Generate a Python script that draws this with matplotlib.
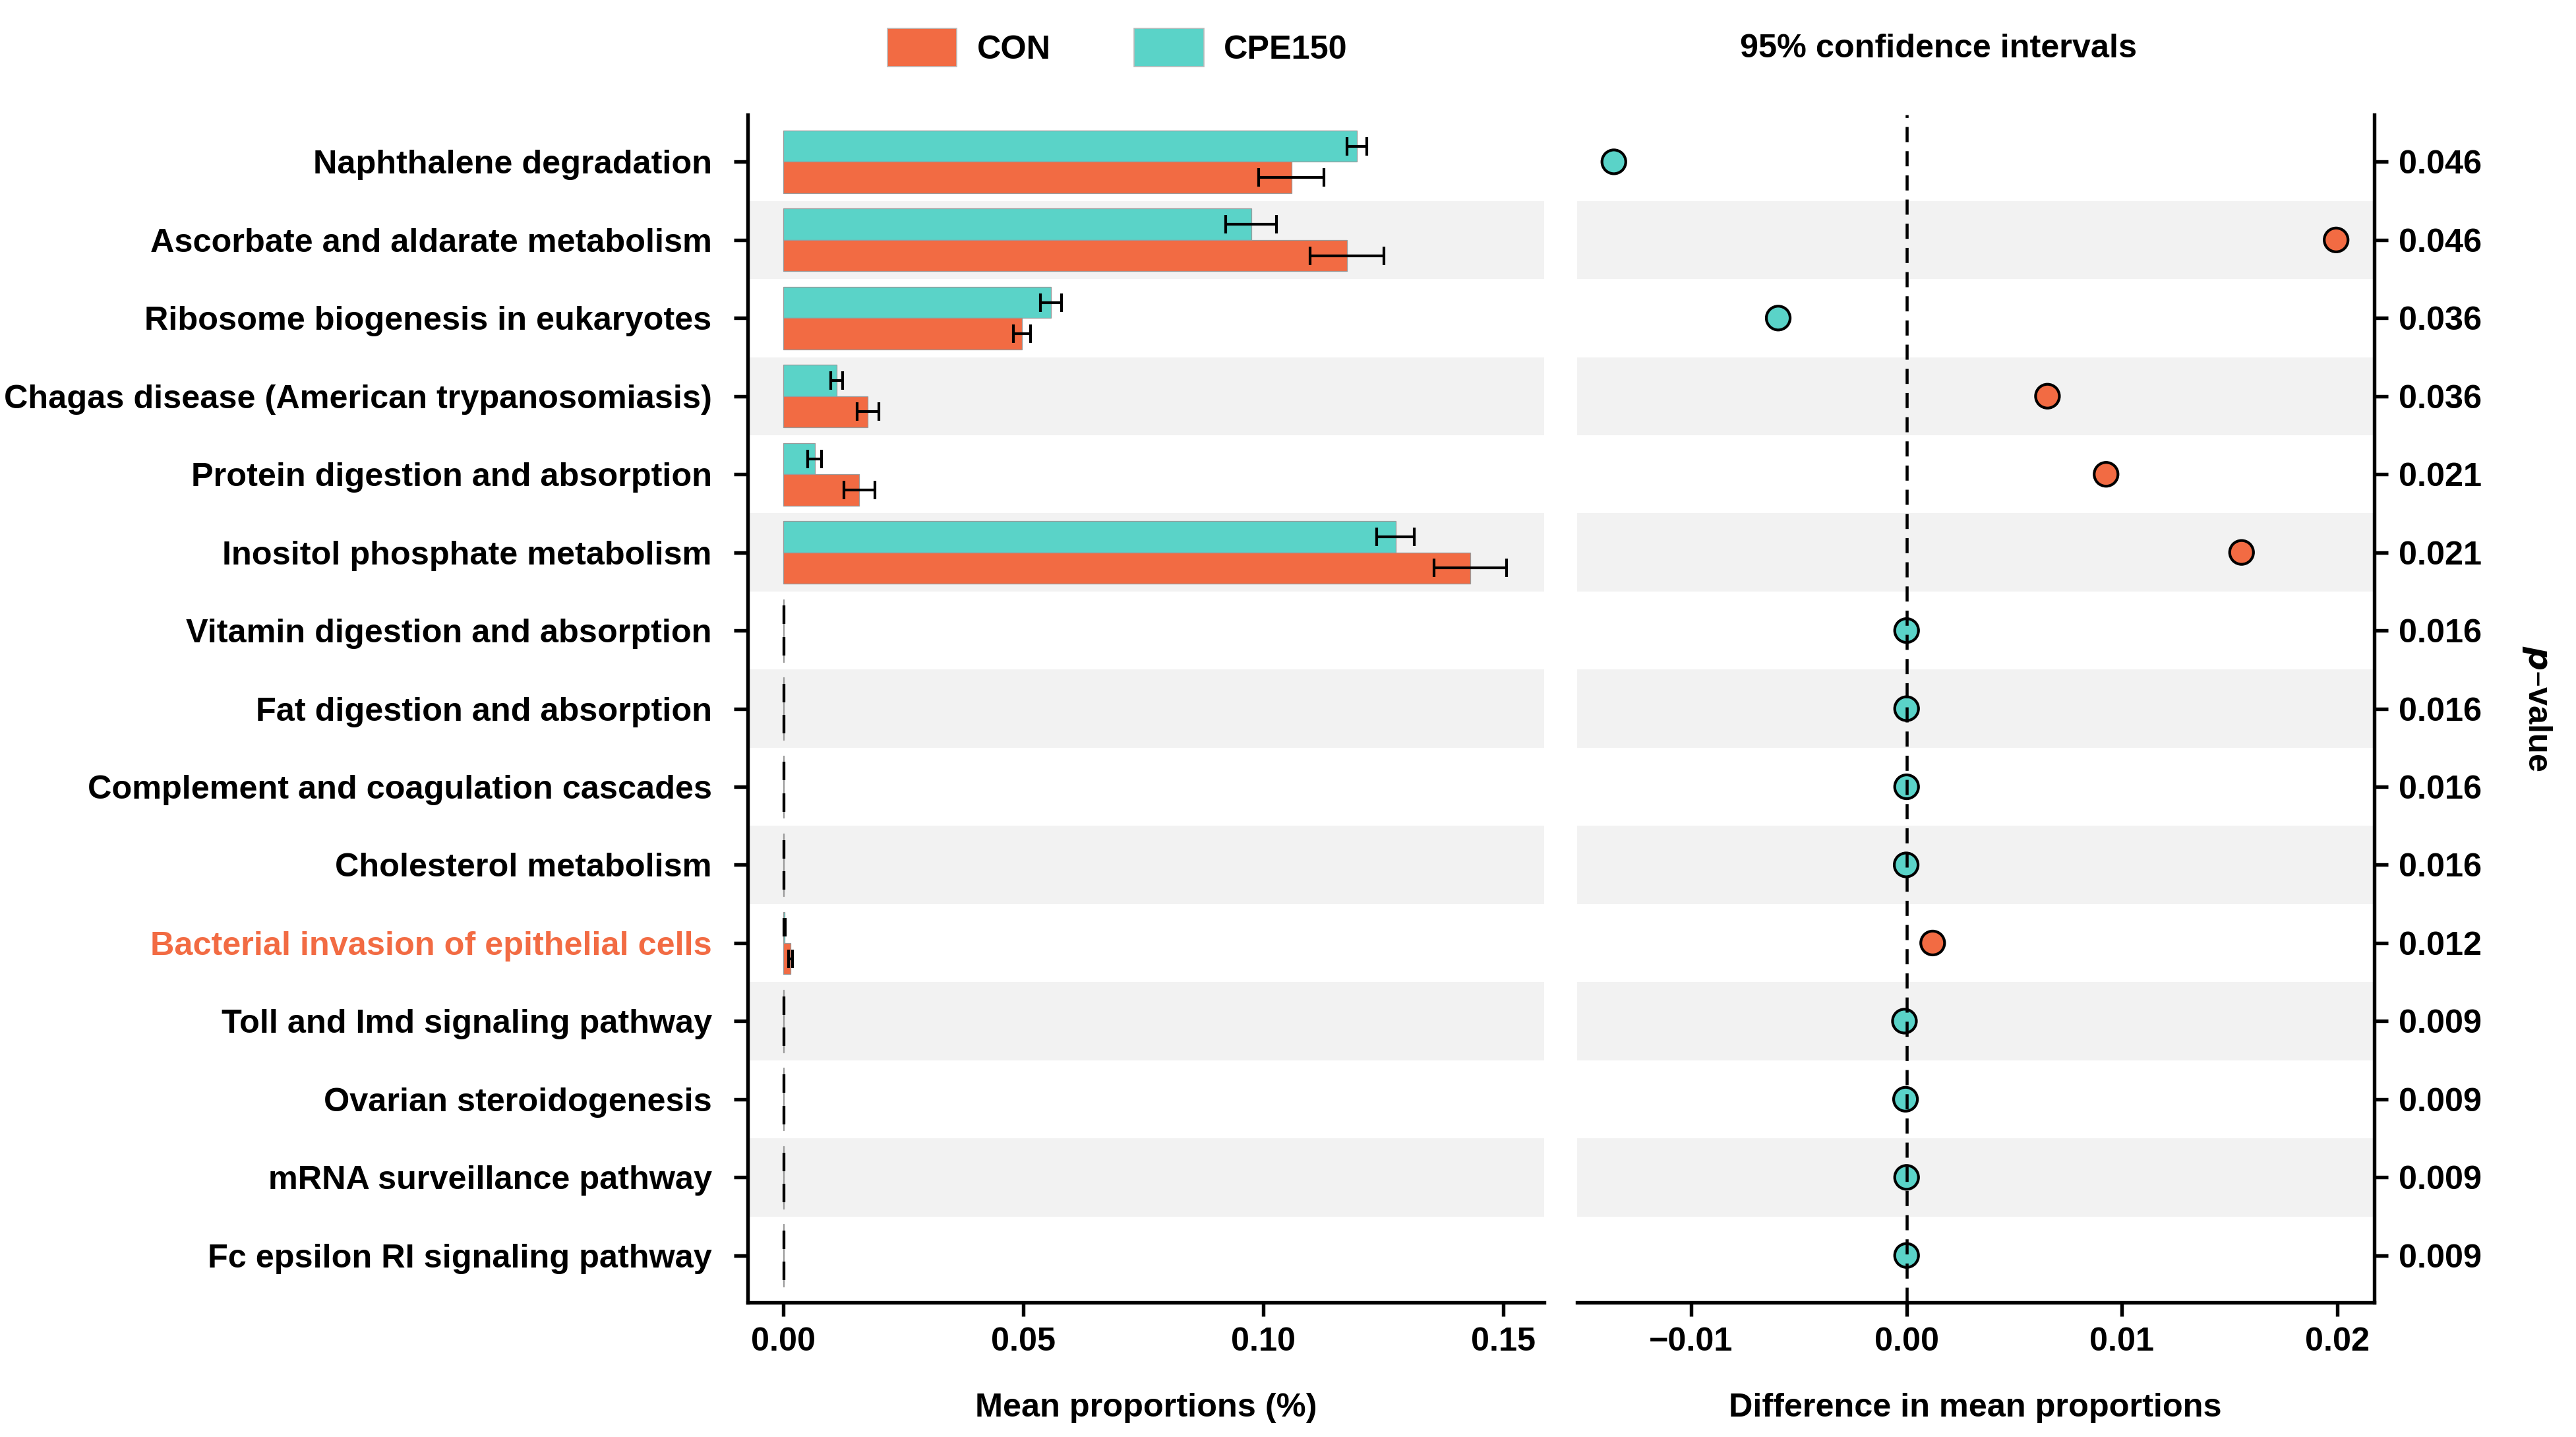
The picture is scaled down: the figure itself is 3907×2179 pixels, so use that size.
import numpy as np
import matplotlib
matplotlib.use('Agg')
import matplotlib.pyplot as plt
from matplotlib.patches import Patch

plt.rcParams['font.family'] = ['Liberation Sans', 'DejaVu Sans']
plt.rcParams['font.weight'] = 'bold'

pathways = ['Naphthalene degradation', 'Ascorbate and aldarate metabolism',
            'Ribosome biogenesis in eukaryotes', 'Chagas disease (American trypanosomiasis)',
            'Protein digestion and absorption', 'Inositol phosphate metabolism',
            'Vitamin digestion and absorption', 'Fat digestion and absorption',
            'Complement and coagulation cascades', 'Cholesterol metabolism',
            'Bacterial invasion of epithelial cells', 'Toll and Imd signaling pathway',
            'Ovarian steroidogenesis', 'mRNA surveillance pathway',
            'Fc epsilon RI signaling pathway']
con_mean = [0.1059, 0.1175, 0.0497, 0.0176, 0.0158, 0.1432, 0.0001, 0.0001, 0.0001, 0.0001,
            0.0015, 0.0001, 0.0001, 0.0001, 0.0001]
con_err = [0.0068, 0.0077, 0.0018, 0.0023, 0.0032, 0.0076, 0.00005, 0.00005, 0.00005, 0.00005,
           0.0004, 0.00005, 0.00005, 0.00005, 0.00005]
cpe_mean = [0.1195, 0.0975, 0.0557, 0.0111, 0.0065, 0.1276, 0.0001, 0.0001, 0.0001, 0.0001,
            0.0002, 0.0001, 0.0001, 0.0001, 0.0001]
cpe_err = [0.0021, 0.0053, 0.0022, 0.00125, 0.0014, 0.0039, 0.00005, 0.00005, 0.00005, 0.00005,
           0.0001, 0.00005, 0.00005, 0.00005, 0.00005]
diff = [-0.01359, 0.01994, -0.00596, 0.00654, 0.00926, 0.01555, 0.0, 0.0, 0.0, -0.00002,
        0.00121, -0.0001, -0.00005, 0.0, 0.0]
pvals = ['0.046', '0.046', '0.036', '0.036', '0.021', '0.021', '0.016', '0.016', '0.016',
         '0.016', '0.012', '0.009', '0.009', '0.009', '0.009']

c_con = '#F26B43'
c_cpe = '#5AD3C8'
band = '#F2F2F2'
fs = 12.1

n = len(pathways)
y = n - np.arange(n)

fig = plt.figure(figsize=(3907 / 300, 2179 / 300), dpi=300)
ax1 = fig.add_axes([0.2902, 0.0937, 0.5995 - 0.2902, 0.92 - 0.0937])
ax2 = fig.add_axes([0.6122, 0.0937, 0.9216 - 0.6122, 0.92 - 0.0937])

for ax in (ax1, ax2):
    for i in range(n):
        if i % 2 == 1:
            ax.axhspan(y[i] - 0.5, y[i] + 0.5, color=band, lw=0, zorder=0)
    ax.set_ylim(0.4, n + 0.6)
    for s in ax.spines.values():
        s.set_linewidth(1.3)
    ax.tick_params(width=1.3, length=5, labelsize=fs, pad=4)

# left panel: mean proportions
ax1.barh(y + 0.2, cpe_mean, height=0.4, color=c_cpe, edgecolor='#9a9a9a', lw=0.3, zorder=2)
ax1.barh(y - 0.2, con_mean, height=0.4, color=c_con, edgecolor='#9a9a9a', lw=0.3, zorder=2)
ax1.errorbar(cpe_mean, y + 0.2, xerr=cpe_err, fmt='none', ecolor='black', elinewidth=1,
             capsize=3.4, capthick=1, zorder=3)
ax1.errorbar(con_mean, y - 0.2, xerr=con_err, fmt='none', ecolor='black', elinewidth=1,
             capsize=3.4, capthick=1, zorder=3)
ax1.set_xlim(-0.0075, 0.1586)
ax1.set_xticks([0, 0.05, 0.10, 0.15])
ax1.set_xticklabels(['0.00', '0.05', '0.10', '0.15'])
ax1.set_yticks(y)
ax1.set_yticklabels(pathways)
ax1.tick_params(axis='y', pad=8)
ax1.get_yticklabels()[10].set_color(c_con)
ax1.spines['top'].set_visible(False)
ax1.spines['right'].set_visible(False)
ax1.set_xlabel('Mean proportions (%)', fontsize=fs, fontweight='bold', labelpad=13)

# right panel: difference in mean proportions
pt_col = [c_con if d > 0 else c_cpe for d in diff]
ax2.scatter(diff, y, s=75, c=pt_col, edgecolors='black', linewidths=1, zorder=3)
ax2.axvline(0, color='black', lw=1.1, linestyle=(0, (5, 3)), zorder=4)
ax2.set_xlim(-0.0153, 0.0217)
ax2.set_xticks([-0.01, 0, 0.01, 0.02])
ax2.set_xticklabels(['\u22120.01', '0.00', '0.01', '0.02'])
ax2.yaxis.tick_right()
ax2.set_yticks(y)
ax2.set_yticklabels(pvals)
ax2.spines['top'].set_visible(False)
ax2.spines['left'].set_visible(False)
ax2.set_xlabel('Difference in mean proportions', fontsize=fs, fontweight='bold', labelpad=13)
ax2.yaxis.set_label_position('right')
ax2.set_ylabel(r'$\bfit{p}$' + '\u2013value', fontsize=fs, fontweight='bold', rotation=270,
               labelpad=26)

handles = [Patch(facecolor=c_con, edgecolor='#bbbbbb', lw=0.4),
           Patch(facecolor=c_cpe, edgecolor='#bbbbbb', lw=0.4)]
fig.legend(handles, ['CON', 'CPE150'], loc='center', bbox_to_anchor=(0.4337, 0.967), ncol=2,
           frameon=False, fontsize=fs, handlelength=2.1, handleheight=1.4,
           handletextpad=0.6, columnspacing=2.5)
fig.text(0.7526, 0.966, '95% confidence intervals', ha='center', va='center', fontsize=fs,
         fontweight='bold')

fig.savefig('out.png', dpi=300)
